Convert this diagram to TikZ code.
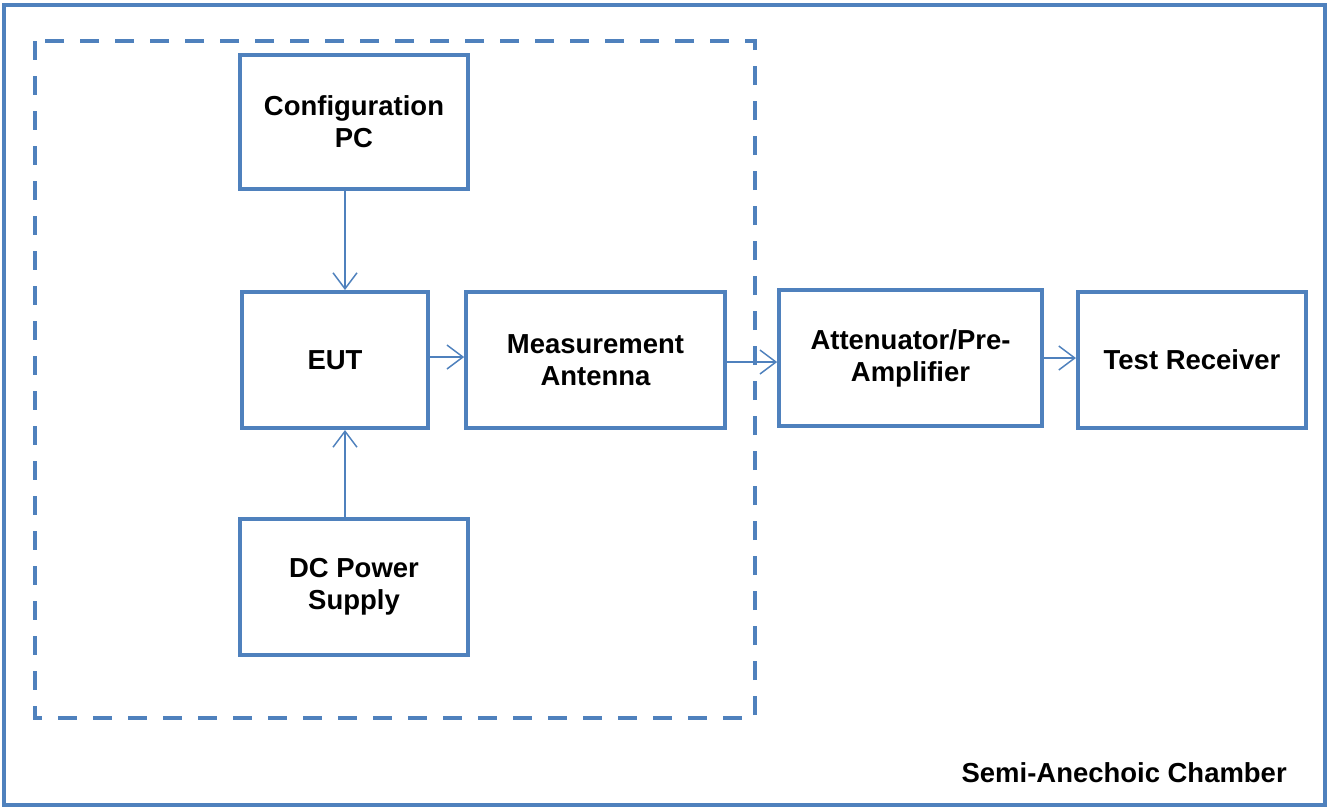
\documentclass[tikz,border=0pt]{standalone}
\usepackage{fontspec}
\setmainfont{Liberation Sans}
\usepackage{tikz}
\usetikzlibrary{arrows.meta}

\definecolor{boxblue}{RGB}{79,129,189}

\tikzset{
  unit/.style={draw=boxblue, line width=3pt, rectangle, align=center,
    font=\fontsize{20.6}{24}\selectfont\bfseries, inner sep=0pt},
  conn/.style={draw=boxblue, line width=1.1pt,
    -{Straight Barb[length=12pt,width=18pt,line width=1.1pt]}}
}

\begin{document}
\begin{tikzpicture}[x=0.75pt,y=0.75pt,yscale=-1,xscale=1]
\useasboundingbox (0,0) rectangle (1328,808);

%Shape: Rectangle (chamber)
\draw [boxblue, line width=3pt] (4,5) rectangle (1325,805);
%Shape: Rectangle (dashed group)
\draw [boxblue, line width=3pt, dash pattern={on 14.25pt off 12pt}] (35,41) rectangle (755,718);

%Blocks
\node [unit, minimum width=171pt, minimum height=100.5pt] (cfg) at (354,122) {Configuration\\PC};
\node [unit, minimum width=139.5pt, minimum height=102pt] (eut) at (335,360) {EUT};
\node [unit, minimum width=194pt, minimum height=102pt] (ant) at (595.5,360) {Measurement\\Antenna};
\node [unit, minimum width=197pt, minimum height=102pt] (att) at (910.5,358) {Attenuator/Pre-\\Amplifier};
\node [unit, minimum width=171pt, minimum height=102pt] (rcv) at (1192,360) {Test Receiver};
\node [unit, minimum width=171pt, minimum height=102pt] (psu) at (354,587) {DC Power\\Supply};

%Text Node
\node [anchor=east, font=\fontsize{20.6}{24}\selectfont\bfseries, inner sep=0pt] (room) at (1287,773) {Semi-Anechoic Chamber};

%Connectors
\coordinate (feed) at (345,0);
\coordinate (rf) at (0,362);
\draw [conn] (cfg.south -| feed) -- (eut.north -| feed);
\draw [conn] (psu.north -| feed) -- (eut.south -| feed);
\draw [conn] (eut.east |- 0,357) -- (ant.west |- 0,357);
\draw [conn] (ant.east |- rf) -- (att.west |- rf);
\draw [conn] (att.east) -- (rcv.west |- att.east);

\end{tikzpicture}
\end{document}
